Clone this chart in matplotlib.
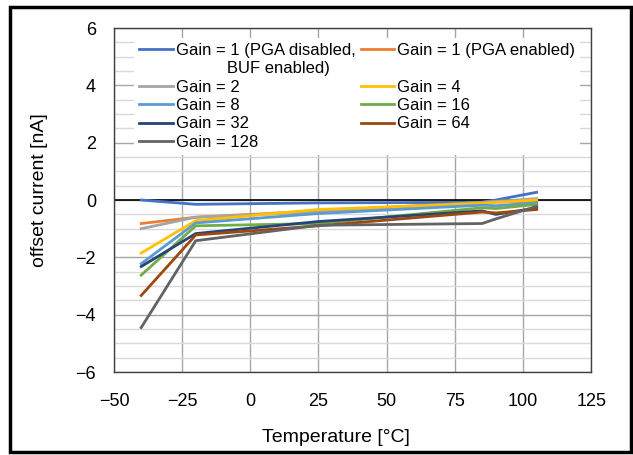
import numpy as np
import matplotlib
matplotlib.use("Agg")
import matplotlib.pyplot as plt
from matplotlib.lines import Line2D
from matplotlib.patches import Rectangle

plt.rcParams['font.family'] = ['Liberation Sans', 'DejaVu Sans']

# temperatures of the measured points
temps = [-40, -20, 25, 85, 90, 105]

# offset current [nA] per gain setting
g1_pga_off = [0.0, -0.15, -0.1, -0.08, 0.0, 0.27]
g1_pga_on = [-0.82, -0.6, -0.38, -0.08, -0.07, -0.05]
g2 = [-1.0, -0.6, -0.42, -0.08, -0.05, 0.05]
g4 = [-1.85, -0.72, -0.33, -0.12, -0.08, 0.0]
g8 = [-2.22, -0.8, -0.47, -0.18, -0.2, -0.1]
g16 = [-2.62, -0.9, -0.82, -0.27, -0.3, -0.15]
g32 = [-2.32, -1.17, -0.75, -0.38, -0.5, -0.28]
g64 = [-3.33, -1.22, -0.9, -0.42, -0.45, -0.33]
g128 = [-4.45, -1.42, -0.88, -0.82, -0.66, -0.22]

series = [
    ("Gain = 1 (PGA disabled,", g1_pga_off, "#4472C4"),
    ("Gain = 1 (PGA enabled)", g1_pga_on, "#ED7D31"),
    ("Gain = 2", g2, "#A5A5A5"),
    ("Gain = 4", g4, "#FFC000"),
    ("Gain = 8", g8, "#5B9BD5"),
    ("Gain = 16", g16, "#70AD47"),
    ("Gain = 32", g32, "#264478"),
    ("Gain = 64", g64, "#9E480E"),
    ("Gain = 128", g128, "#636363"),
]

TICK_FS = 13
LEG_FS = 12
LABEL_FS = 14

fig = plt.figure(figsize=(6.33, 4.55), dpi=100)
ax = fig.add_axes([0.180, 0.1824, 0.754, 0.756])

ax.set_xlim(-50, 125)
ax.set_ylim(-6, 6)
ax.set_xticks(np.arange(-50, 126, 25))
ax.set_yticks(np.arange(-6, 7, 2))
ax.set_yticks(np.arange(-6, 6.01, 0.5), minor=True)

ax.grid(True, which='minor', axis='y', color='#D9D9D9', lw=1.0)
ax.grid(True, which='major', axis='y', color='#A6A6A6', lw=1.0)
ax.grid(True, which='major', axis='x', color='#A6A6A6', lw=1.0)
ax.set_axisbelow(True)
ax.tick_params(which='both', length=0, labelsize=TICK_FS)
ax.tick_params(axis='y', pad=13)
ax.tick_params(axis='x', pad=15)
for s in ax.spines.values():
    s.set_color('#404040')
    s.set_linewidth(1.0)

ax.axhline(0, color='black', lw=1.2, zorder=1.5)

handles = {}
for name, vals, col in series:
    h, = ax.plot(temps, vals, color=col, lw=2.0, label=name, zorder=2)
    handles[name] = h

blank = Line2D([], [], color='none')
col1 = [handles["Gain = 1 (PGA disabled,"], blank, handles["Gain = 2"],
        handles["Gain = 8"], handles["Gain = 32"], handles["Gain = 128"]]
lab1 = ["Gain = 1 (PGA disabled,", "           BUF enabled)", "Gain = 2",
        "Gain = 8", "Gain = 32", "Gain = 128"]
col2 = [handles["Gain = 1 (PGA enabled)"], blank, handles["Gain = 4"],
        handles["Gain = 16"], handles["Gain = 64"], blank]
lab2 = ["Gain = 1 (PGA enabled)", "", "Gain = 4", "Gain = 16", "Gain = 64", ""]

leg = ax.legend(col1 + col2, lab1 + lab2, ncol=2, loc='upper left',
                bbox_to_anchor=(0.025, 0.995), fontsize=LEG_FS,
                frameon=True, facecolor='white', edgecolor='none', framealpha=1,
                handlelength=2.0, handletextpad=0.2, columnspacing=0.3,
                labelspacing=0.2, borderpad=0.3, fancybox=False)
leg.set_zorder(5)

ax.set_xlabel("Temperature [°C]", fontsize=LABEL_FS, va='center')
ax.set_ylabel("offset current [nA]", fontsize=LABEL_FS, va='center')
ax.xaxis.set_label_coords(0.465, -0.189)
ax.yaxis.set_label_coords(-0.155, 0.529)

fig.patches.append(Rectangle((0.0158, 0.0066), 0.9818, 0.979, transform=fig.transFigure,
                             fill=False, edgecolor='black', lw=2.5))

fig.savefig("out.png", dpi=100)
